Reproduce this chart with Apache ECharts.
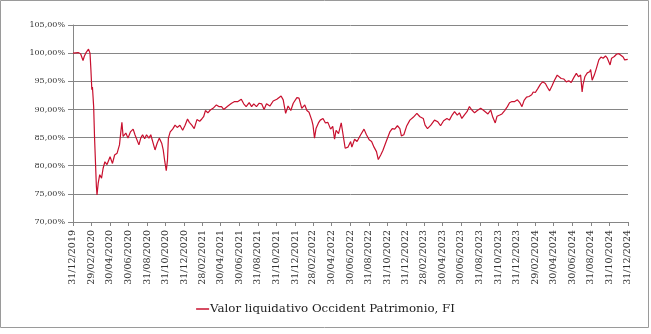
<!DOCTYPE html>
<html>
<head>
<meta charset="utf-8">
<script src="https://cdn.jsdelivr.net/npm/echarts@6/dist/echarts.min.js"></script>
<style>
html,body{margin:0;padding:0;background:#fff;}
#chart{width:651px;height:334px;}
</style>
</head>
<body>
<div id="chart"></div>
<script>
const seriesName = 'Valor liquidativo Occident Patrimonio, FI';

const dates = [
'2019-12-31','2020-01-01','2020-01-17','2020-01-25','2020-02-02','2020-02-06','2020-02-12','2020-02-20','2020-02-25','2020-02-28',
'2020-03-02','2020-03-04','2020-03-08','2020-03-11','2020-03-17','2020-03-19','2020-03-23','2020-03-28','2020-04-03','2020-04-08',
'2020-04-14','2020-04-21','2020-05-01','2020-05-09','2020-05-16','2020-05-24','2020-06-01','2020-06-05','2020-06-09','2020-06-13',
'2020-06-22','2020-06-29','2020-07-07','2020-07-16','2020-07-22','2020-07-27','2020-08-04','2020-08-10','2020-08-16','2020-08-23',
'2020-08-29','2020-09-06','2020-09-12','2020-09-18','2020-09-26','2020-10-03','2020-10-10','2020-10-18','2020-10-23','2020-10-28',
'2020-11-02','2020-11-06','2020-11-09','2020-11-15','2020-11-23','2020-12-01','2020-12-08','2020-12-17','2020-12-26','2021-01-03',
'2021-01-11','2021-01-17','2021-01-25','2021-02-02','2021-02-11','2021-02-20','2021-02-27','2021-03-05','2021-03-11','2021-03-19',
'2021-03-27','2021-04-05','2021-04-16','2021-04-24','2021-05-03','2021-05-10','2021-05-16','2021-05-24','2021-06-05','2021-06-15',
'2021-06-26','2021-07-07','2021-07-15','2021-07-23','2021-08-02','2021-08-10','2021-08-17','2021-08-26','2021-09-04','2021-09-12',
'2021-09-20','2021-09-28','2021-10-09','2021-10-20','2021-11-01','2021-11-15','2021-11-22','2021-11-30','2021-12-08','2021-12-17',
'2021-12-25','2022-01-06','2022-01-13','2022-01-22','2022-02-01','2022-02-08','2022-02-15','2022-02-24','2022-02-28','2022-03-05',
'2022-03-10','2022-03-18','2022-03-24','2022-04-02','2022-04-10','2022-04-18','2022-04-27','2022-05-04','2022-05-10','2022-05-15',
'2022-05-23','2022-06-01','2022-06-07','2022-06-14','2022-06-23','2022-07-02','2022-07-06','2022-07-15','2022-07-23','2022-08-04',
'2022-08-15','2022-08-23','2022-09-01','2022-09-09','2022-09-17','2022-09-25','2022-10-01','2022-10-09','2022-10-16','2022-10-27',
'2022-11-08','2022-11-16','2022-11-24','2022-12-03','2022-12-11','2022-12-16','2022-12-24','2023-01-02','2023-01-13','2023-01-24',
'2023-02-05','2023-02-15','2023-02-26','2023-03-04','2023-03-12','2023-03-23','2023-04-04','2023-04-15','2023-04-24','2023-05-04',
'2023-05-15','2023-05-23','2023-06-01','2023-06-09','2023-06-18','2023-06-25','2023-07-03','2023-07-11','2023-07-20','2023-07-28',
'2023-08-05','2023-08-14','2023-08-23','2023-09-03','2023-09-11','2023-09-18','2023-09-27','2023-10-06','2023-10-13','2023-10-21',
'2023-10-27','2023-11-05','2023-11-12','2023-11-21','2023-11-30','2023-12-07','2023-12-15','2023-12-24','2024-01-02','2024-01-10',
'2024-01-17','2024-01-24','2024-02-01','2024-02-09','2024-02-18','2024-02-23','2024-03-01','2024-03-09','2024-03-18','2024-03-25',
'2024-04-03','2024-04-10','2024-04-17','2024-04-25','2024-05-03','2024-05-12','2024-05-16','2024-05-25','2024-06-03','2024-06-11',
'2024-06-19','2024-06-27','2024-07-06','2024-07-14','2024-07-21','2024-07-28','2024-08-02','2024-08-05','2024-08-11','2024-08-19',
'2024-08-27','2024-08-30','2024-09-04','2024-09-11','2024-09-18','2024-09-26','2024-10-03','2024-10-10','2024-10-18','2024-10-24',
'2024-11-02','2024-11-07','2024-11-16','2024-11-23','2024-12-01','2024-12-07','2024-12-15','2024-12-20','2024-12-30'
];

const values = [
100.0,100.25,100.1,99.9,98.7,99.4,100.1,100.7,100.0,97.0,
93.5,94.0,90.5,84.9,76.3,74.8,76.9,78.4,77.8,79.5,
80.7,80.2,81.6,80.4,81.9,82.2,83.7,85.8,87.7,85.2,
85.8,84.9,86.0,86.5,85.5,85.7,83.7,84.9,85.5,84.8,
85.5,84.9,85.5,85.3,82.8,84.0,84.9,84.0,82.8,80.8,
79.1,81.0,84.9,86.0,86.5,87.2,86.8,87.2,86.3,87.2,
88.3,87.7,87.2,86.6,88.2,87.9,88.3,88.7,89.8,89.4,
89.9,90.2,90.8,90.5,90.5,90.0,89.8,90.6,91.1,91.4,
91.4,91.8,91.0,90.5,91.2,90.5,91.0,90.5,91.1,91.0,
90.0,91.0,90.6,91.5,91.8,92.4,91.7,89.3,90.6,89.8,
91.1,92.1,92.0,90.2,90.8,89.8,89.5,88.1,87.2,84.9,
86.6,87.6,88.1,88.4,87.6,87.7,86.5,87.0,84.7,86.3,
85.7,87.6,87.5,83.1,83.3,84.3,83.3,84.7,84.3,85.5,
86.5,85.5,84.6,84.3,83.3,82.5,81.1,81.9,82.7,84.3,
86.0,86.6,86.5,87.1,86.6,85.3,85.5,87.0,88.1,88.6,
89.3,88.7,88.4,87.2,86.6,87.2,88.1,87.8,87.1,88.0,
88.4,88.1,89.0,89.6,89.0,89.4,88.4,89.0,89.6,90.5,
89.9,89.4,89.8,90.2,89.9,89.6,89.2,89.9,88.6,87.6,
88.8,89.0,89.2,89.8,90.5,91.2,91.4,91.4,91.7,91.2,
90.5,91.6,92.2,92.3,92.6,93.1,93.0,93.7,94.5,94.9,
94.6,93.9,93.3,94.2,95.2,96.1,96.4,95.5,95.4,94.9,
95.1,94.8,95.7,96.4,95.8,96.1,93.1,94.4,95.8,96.5,
96.7,97.1,95.2,96.1,97.3,98.8,99.3,99.1,99.5,99.1,
97.9,99.1,99.4,99.8,99.9,99.8,99.3,98.8,98.9
];

const xTickDates = [
'2019-12-31','2020-02-29','2020-04-30','2020-06-30','2020-08-31','2020-10-31','2020-12-31',
'2021-02-28','2021-04-30','2021-06-30','2021-08-31','2021-10-31','2021-12-31',
'2022-02-28','2022-04-30','2022-06-30','2022-08-31','2022-10-31','2022-12-31',
'2023-02-28','2023-04-30','2023-06-30','2023-08-31','2023-10-31','2023-12-31',
'2024-02-29','2024-04-30','2024-06-30','2024-08-31','2024-10-31','2024-12-31'
];

const yMin = 70, yMax = 105, yStep = 5;

function toTs(s){ const p = s.split('-').map(Number); return Date.UTC(p[0], p[1]-1, p[2]); }
function pad(n){ return (n < 10 ? '0' : '') + n; }

const tickTs = xTickDates.map(toTs);
const seriesData = dates.map((d, i) => [toTs(d), values[i]]);

const chart = echarts.init(document.getElementById('chart'), null, {renderer: 'canvas'});
const font = 'DejaVu Serif';
chart.setOption({
  animation: false,
  backgroundColor: '#ffffff',
  textStyle: {fontFamily: font},
  graphic: [{
    type: 'rect', silent: true, z: -1,
    shape: {x: 0.5, y: 0.5, width: 648, height: 327},
    style: {fill: 'none', stroke: '#9a9a9a', lineWidth: 1}
  }],
  grid: {left: 73, right: 23, top: 25, bottom: 112},
  legend: {
    data: [seriesName],
    left: 'center', top: 298,
    icon: 'rect', itemWidth: 13, itemHeight: 1.5, itemGap: 4,
    textStyle: {fontFamily: font, fontSize: 11.8, color: '#222', padding: [0,0,0,-4]}
  },
  xAxis: {
    type: 'value',
    min: tickTs[0], max: tickTs[tickTs.length-1],
    axisLine: {show: true, lineStyle: {color: '#868686', width: 1}},
    axisTick: {show: true, length: 4, customValues: tickTs, lineStyle: {color: '#868686'}},
    splitLine: {show: false},
    axisLabel: {
      customValues: tickTs,
      rotate: 90, margin: 8, showMinLabel: true, showMaxLabel: true,
      fontFamily: font, fontSize: 9.5, color: '#333',
      formatter: function(v){ const d = new Date(v); return pad(d.getUTCDate()) + '/' + pad(d.getUTCMonth()+1) + '/' + d.getUTCFullYear(); }
    }
  },
  yAxis: {
    type: 'value', min: yMin, max: yMax, interval: yStep,
    axisLine: {show: true, lineStyle: {color: '#868686', width: 1}},
    axisTick: {show: true, length: 5, lineStyle: {color: '#868686'}},
    splitLine: {show: true, lineStyle: {color: '#868686', width: 1}},
    axisLabel: {
      margin: 8, fontFamily: font, fontSize: 8, color: '#333',
      formatter: function(v){ return v.toFixed(2).replace('.', ',') + '%'; }
    }
  },
  series: [{
    name: seriesName,
    type: 'line',
    data: seriesData,
    showSymbol: false, symbol: 'none',
    lineStyle: {color: '#C8102E', width: 1.2},
    itemStyle: {color: '#C8102E'}
  }]
});
</script>
</body>
</html>
